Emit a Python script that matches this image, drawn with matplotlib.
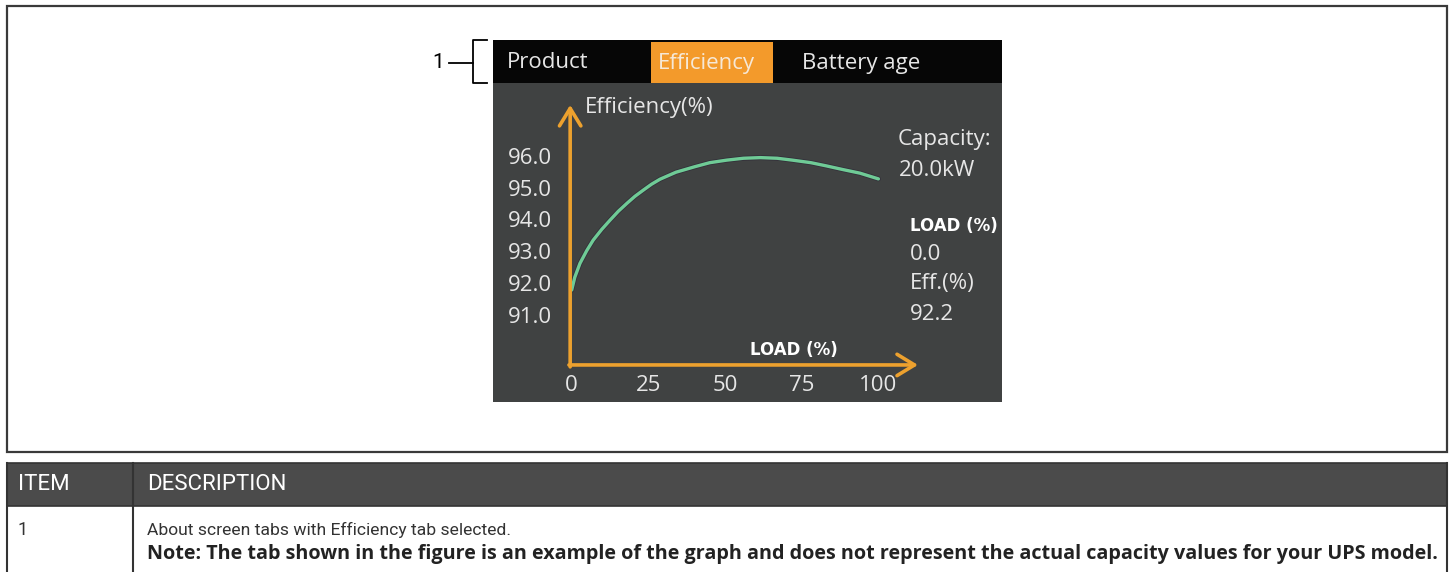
import matplotlib
matplotlib.use("Agg")
import matplotlib.pyplot as plt
from matplotlib.patches import Rectangle
from matplotlib.transforms import ScaledTranslation
import matplotlib.patheffects as pe

W, H = 1450, 572

# ---- data ----
load_pct = [0, 1, 2.7, 4.9, 7, 9.8, 12.5, 15.2, 18, 20.6, 23.4, 26, 28.8, 34, 40, 45,
            50.5, 56, 61.5, 67, 72, 78, 83, 88.6, 94, 100]
efficiency = [92.20, 92.60, 93.04, 93.44, 93.77, 94.11, 94.40, 94.68, 94.93, 95.15,
              95.35, 95.53, 95.69, 95.91, 96.08, 96.21, 96.29, 96.35, 96.37, 96.35,
              96.29, 96.21, 96.11, 95.99, 95.88, 95.70]
x_ticks = [0, 25, 50, 75, 100]
y_ticks = [91.0, 92.0, 93.0, 94.0, 95.0, 96.0]
tabs = ["Product", "Efficiency", "Battery age"]
active_tab = "Efficiency"
capacity_kw = 20.0
cursor_load = 0.0
cursor_eff = 92.2

SCREEN_FONT = ["Open Sans", "DejaVu Sans"]
TABLE_FONT = ["Roboto", "DejaVu Sans"]
SCREEN_BG = "#404242"
ORANGE = "#f39a2b"
AXIS_ORANGE = "#eda12e"
CURVE = "#6fcb96"
LIGHT = "#e6e6e6"

fig = plt.figure(figsize=(W / 100, H / 100), dpi=100)
fig.patch.set_facecolor("white")

# pixel-space canvas for the frame, screen chrome and table
bg = fig.add_axes([0, 0, 1, 1], zorder=0)
bg.set_xlim(0, W)
bg.set_ylim(H, 0)
bg.axis("off")

# outer figure frame
bg.add_patch(Rectangle((7, 6), 1440, 446, fill=False, ec="#3a3a3a", lw=1.6))

# screen body and tab bar
SX0, SX1, SY0, SY1 = 493, 1002, 40, 402
bg.add_patch(Rectangle((SX0, SY0), SX1 - SX0, SY1 - SY0, fc=SCREEN_BG, ec="none"))
bg.add_patch(Rectangle((SX0, SY0), SX1 - SX0, 43, fc="#060606", ec="none"))
bg.add_patch(Rectangle((651, 42), 122, 41, fc=ORANGE, ec="none"))
tab_x = [507, 658, 802]
for name, tx in zip(tabs, tab_x):
    bg.text(tx, 63, name, family=SCREEN_FONT, fontsize=16,
            color="#f6e8d6" if name == active_tab else LIGHT,
            ha="left", va="center")

# callout "1" with bracket around the tab bar
bg.text(444, 63, "1", family=TABLE_FONT, fontsize=15, color="black",
        ha="right", va="center")
bg.plot([449, 473], [63, 63], color="black", lw=1.3)
bg.plot([487, 473, 473, 487], [40, 40, 83, 83], color="black", lw=1.3)

# side readout
bg.text(898, 140, "Capacity:", family=SCREEN_FONT, fontsize=16, color=LIGHT, va="center")
bg.text(899, 171, f"{capacity_kw:.1f}kW", family=SCREEN_FONT, fontsize=16, color=LIGHT, va="center")
bg.text(910, 226, "LOAD (%)", family="DejaVu Sans", fontweight="bold", fontsize=12,
        color="white", va="center")
bg.text(910, 255, f"{cursor_load:.1f}", family=SCREEN_FONT, fontsize=16, color=LIGHT, va="center")
bg.text(910, 284, "Eff.(%)", family=SCREEN_FONT, fontsize=16, color=LIGHT, va="center")
bg.text(910, 314, f"{cursor_eff:.1f}", family=SCREEN_FONT, fontsize=16, color=LIGHT, va="center")

# axis titles
bg.text(585, 108, "Efficiency(%)", family=SCREEN_FONT, fontsize=16, color=LIGHT, va="center")
bg.text(750, 350, "LOAD (%)", family="DejaVu Sans", fontweight="bold", fontsize=12,
        color="white", va="center")

# ---- description table ----
TX0, TX1 = 7, 1447
bg.add_patch(Rectangle((TX0, 463), TX1 - TX0, 43, fc="#4b4b4b", ec="#333333", lw=1.2))
bg.plot([TX0, TX0], [463, H], color="#333333", lw=1.5)
bg.plot([TX1, TX1], [463, H], color="#333333", lw=1.5)
bg.plot([133, 133], [463, H], color="#333333", lw=1.5)
bg.text(18, 485, "ITEM", family=TABLE_FONT, fontsize=16, color="white", va="center")
bg.text(147, 485, "DESCRIPTION", family=TABLE_FONT, fontsize=16, color="white", va="center")
bg.text(18, 530, "1", family=TABLE_FONT, fontsize=13, color="#333333", va="center")
bg.text(147, 530, "About screen tabs with Efficiency tab selected.", family=TABLE_FONT,
        fontsize=12.6, color="#333333", va="center")
bg.text(147, 554, "Note: The tab shown in the figure is an example of the graph and does not "
        "represent the actual capacity values for your UPS model.",
        family=["Open Sans", "DejaVu Sans"], fontsize=14.2, fontweight="bold",
        color="#222222", va="center")

# ---- efficiency chart on the screen ----
ax = fig.add_axes([SX0 / W, 1 - SY1 / H, (SX1 - SX0) / W, (SY1 - 83) / H], zorder=1)
ax.patch.set_alpha(0)
ax.set_xlim(-25.66, 140.3)
ax.set_ylim(88.673, 98.72)
for s in ax.spines.values():
    s.set_visible(False)
ax.set_xticks([])
ax.set_yticks([])

x_axis_level = 89.84
y_axis_pos = -0.5
arrow_kw = dict(arrowstyle="->,head_length=0.9,head_width=0.55", color=AXIS_ORANGE,
                lw=2.6, mutation_scale=14, shrinkA=0, shrinkB=0)
ax.annotate("", xy=(y_axis_pos, 98.03), xytext=(y_axis_pos, x_axis_level - 0.06),
            arrowprops=arrow_kw)
ax.annotate("", xy=(112.9, x_axis_level), xytext=(y_axis_pos - 0.4, x_axis_level),
            arrowprops=arrow_kw)

ax.plot(load_pct, efficiency, color=CURVE, lw=2.4, solid_capstyle="round",
        solid_joinstyle="round",
        path_effects=[pe.Stroke(linewidth=3.6, foreground="#33303a"), pe.Normal()])

ylab_tf = ax.transData + ScaledTranslation(-0.18, 0.11, fig.dpi_scale_trans)
for v in y_ticks:
    ax.text(y_axis_pos, v, f"{v:.1f}", transform=ylab_tf, family=SCREEN_FONT, fontsize=16,
            color=LIGHT, ha="right", va="center", clip_on=False)
xlab_tf = ax.transData + ScaledTranslation(0, -0.205, fig.dpi_scale_trans)
for t in x_ticks:
    ax.text(t, x_axis_level, f"{t}", transform=xlab_tf, family=SCREEN_FONT, fontsize=16,
            color=LIGHT, ha="center", va="center", clip_on=False)

fig.savefig("out.png", dpi=100)
